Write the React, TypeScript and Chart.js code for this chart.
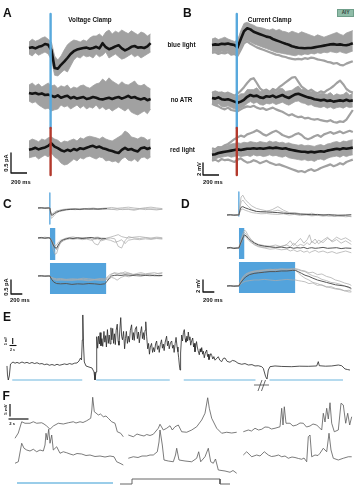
import React, { useEffect, useRef } from "react";
import { Chart, registerables } from "chart.js";

Chart.register(...registerables);

// ================= A: voltage clamp, current (pA) vs time (ms) =================
const A_TIME = [0, 40, 80, 120, 160, 200, 240, 280, 320, 360, 400, 440, 480, 520, 560, 600, 640, 680, 720, 760, 800, 840, 880, 920, 960, 1000, 1040, 1080, 1120, 1160, 1200, 1240, 1280, 1320, 1360, 1400, 1440, 1480, 1520];
const A_LIGHT_ONSET_MS = 270;

const A_BLUE_MEAN = [0, 0.02, -0.01, 0.03, 0.05, 0.1, 0.08, -0.05, -0.5, -0.52, -0.42, -0.34, -0.25, -0.15, -0.08, -0.04, -0.02, 0.0, 0.01, -0.02, 0.0, 0.03, -0.01, 0.12, 0.02, -0.03, 0.0, 0.04, 0.07, -0.01, -0.06, -0.02, 0.03, 0.05, 0.01, 0.02, 0.0, 0.04, 0.12];
const A_BLUE_HI = [0.15, 0.22, 0.17, 0.2, 0.25, 0.28, 0.22, 0.15, -0.2, -0.3, -0.2, -0.05, 0.08, 0.15, 0.2, 0.18, 0.15, 0.2, 0.17, 0.25, 0.3, 0.3, 0.35, 0.28, 0.4, 0.45, 0.35, 0.42, 0.38, 0.45, 0.4, 0.36, 0.43, 0.38, 0.33, 0.4, 0.37, 0.3, 0.35];
const A_BLUE_LO = [-0.15, -0.2, -0.12, -0.18, -0.14, -0.1, -0.15, -0.3, -0.68, -0.7, -0.62, -0.55, -0.6, -0.45, -0.3, -0.22, -0.25, -0.18, -0.22, -0.2, -0.25, -0.15, -0.22, -0.18, -0.1, -0.25, -0.2, -0.15, -0.22, -0.28, -0.25, -0.2, -0.15, -0.22, -0.18, -0.25, -0.2, -0.15, -0.1];

const A_NOATR_MEAN = [0.1, 0.08, 0.1, 0.07, 0.09, 0.05, 0.06, 0.03, 0.0, 0.04, -0.02, 0.01, 0.03, -0.03, 0.0, -0.04, -0.02, 0.0, -0.05, -0.03, 0.0, -0.02, -0.05, -0.06, -0.04, -0.02, -0.05, -0.02, 0.0, -0.04, -0.01, 0.03, -0.02, 0.0, -0.04, -0.06, -0.03, -0.08, -0.05];
const A_NOATR_HI = [0.3, 0.35, 0.28, 0.33, 0.25, 0.3, 0.35, 0.28, 0.3, 0.22, 0.28, 0.25, 0.3, 0.2, 0.25, 0.22, 0.28, 0.3, 0.25, 0.22, 0.28, 0.33, 0.35, 0.45, 0.38, 0.48, 0.4, 0.35, 0.3, 0.38, 0.32, 0.3, 0.35, 0.4, 0.3, 0.28, 0.32, 0.25, 0.2];
const A_NOATR_LO = [-0.1, -0.15, -0.12, -0.2, -0.25, -0.3, -0.28, -0.35, -0.32, -0.3, -0.2, -0.25, -0.22, -0.3, -0.25, -0.2, -0.28, -0.22, -0.3, -0.25, -0.28, -0.2, -0.3, -0.25, -0.32, -0.28, -0.35, -0.3, -0.25, -0.3, -0.35, -0.28, -0.38, -0.42, -0.45, -0.4, -0.35, -0.42, -0.3];

const A_RED_MEAN = [-0.02, 0.0, 0.03, -0.01, 0.02, 0.04, 0.08, 0.14, 0.06, 0.02, -0.03, -0.06, -0.02, -0.05, 0.0, -0.03, 0.02, 0.0, 0.03, 0.06, 0.08, 0.04, 0.06, 0.02, 0.0, -0.03, -0.05, -0.08, -0.1, -0.02, 0.03, -0.02, 0.0, -0.04, -0.06, 0.02, 0.04, 0.0, 0.03];
const A_RED_HI = [0.2, 0.25, 0.22, 0.18, 0.25, 0.22, 0.28, 0.3, 0.25, 0.22, 0.15, 0.2, 0.18, 0.22, 0.25, 0.2, 0.28, 0.25, 0.3, 0.32, 0.3, 0.28, 0.25, 0.3, 0.25, 0.22, 0.2, 0.25, 0.3, 0.35, 0.45, 0.4, 0.3, 0.28, 0.25, 0.3, 0.28, 0.22, 0.25];
const A_RED_LO = [-0.22, -0.2, -0.18, -0.25, -0.2, -0.15, -0.2, -0.1, -0.2, -0.25, -0.35, -0.4, -0.38, -0.32, -0.25, -0.3, -0.22, -0.25, -0.2, -0.18, -0.22, -0.25, -0.2, -0.22, -0.3, -0.28, -0.32, -0.3, -0.35, -0.25, -0.2, -0.28, -0.3, -0.25, -0.32, -0.22, -0.2, -0.25, -0.2];

// ================= B: current clamp, voltage (mV) vs time (ms) =================
const B_TIME = [0, 40, 80, 120, 160, 200, 240, 280, 320, 360, 400, 440, 480, 520, 560, 600, 640, 680, 720, 760, 800, 840, 880, 920, 960, 1000, 1040, 1080, 1120, 1160, 1200, 1240, 1280, 1320, 1360, 1400, 1440, 1480, 1520, 1560, 1600, 1640, 1680, 1720, 1760];
const B_LIGHT_ONSET_MS = 310;

const B_BLUE_MEAN = [0.0, 0.1, 0.05, 0.2, 0.15, 0.25, 0.1, 0.0, -0.4, 1.0, 2.3, 2.8, 2.6, 2.2, 2.0, 1.8, 1.6, 1.4, 1.3, 1.0, 0.8, 0.6, 0.4, 0.2, 0.05, -0.2, -0.35, -0.45, -0.5, -0.55, -0.5, -0.5, -0.4, -0.3, -0.2, -0.1, 0.0, 0.1, 0.15, 0.05, 0.1, 0.0, -0.05, 0.1, 0.3];
const B_BLUE_HI = [1.0, 1.2, 0.9, 1.1, 1.3, 1.0, 0.8, 0.6, 0.8, 2.4, 3.6, 3.8, 3.5, 3.3, 3.0, 2.9, 2.8, 2.6, 2.5, 2.7, 2.4, 2.6, 2.3, 2.2, 2.0, 2.3, 2.1, 1.9, 2.2, 2.0, 1.8, 1.6, 1.4, 1.7, 1.5, 1.3, 1.5, 1.7, 1.9, 2.1, 1.8, 1.6, 2.0, 2.2, 2.4];
const B_BLUE_LO = [-1.2, -1.0, -1.4, -1.1, -1.3, -1.0, -1.5, -1.4, -1.6, -0.5, 0.5, 0.8, 0.5, 0.2, 0.0, -0.2, -0.4, -0.6, -0.8, -1.0, -1.2, -1.3, -1.4, -1.5, -1.6, -1.7, -1.8, -1.6, -1.7, -1.5, -1.6, -1.4, -1.5, -1.3, -1.4, -1.2, -1.3, -1.1, -1.2, -1.3, -1.1, -1.3, -1.4, -1.2, -1.0];
const B_BLUE_SWEEP_LOW = [-1.3, -1.2, -1.5, -1.3, -1.4, -1.2, -1.6, -1.5, -1.8, -0.8, 0.3, 0.6, 0.2, -0.1, -0.4, -0.6, -0.8, -1.0, -1.2, -1.4, -1.6, -1.7, -1.9, -2.0, -2.2, -2.3, -2.4, -2.3, -2.4, -2.2, -2.3, -2.1, -2.2, -2.4, -2.5, -2.6, -2.8, -2.9, -3.1, -3.0, -3.3, -3.4, -3.1, -2.9, -2.7];

const B_NOATR_MEAN = [0.0, -0.1, 0.1, -0.2, -0.3, -0.2, -0.4, -0.6, -0.8, -0.6, -0.3, 0.2, 0.5, 0.3, 0.4, 0.1, 0.0, 0.3, 0.2, 0.4, 0.1, 0.3, 0.5, 0.2, 0.0, 0.3, 0.6, 0.7, 0.5, 0.3, 0.1, 0.0, -0.2, -0.3, -0.4, -0.3, -0.5, -0.4, -0.6, -0.5, -0.4, -0.5, -0.3, -0.5, -0.4];
const B_NOATR_HI = [1.0, 1.2, 1.0, 1.0, 0.8, 0.8, 0.8, 0.3, 0.3, 0.7, 0.7, 1.4, 1.4, 1.4, 1.7, 1.1, 1.2, 1.4, 1.1, 1.6, 1.1, 1.6, 1.6, 1.1, 1.2, 1.3, 1.7, 2.0, 1.4, 1.5, 1.1, 1.1, 1.1, 0.6, 0.8, 0.7, 0.6, 0.9, 0.4, 0.7, 0.5, 0.6, 1.0, 0.5, 0.8];
const B_NOATR_LO = [-1.1, -1.3, -1.0, -1.4, -1.5, -1.3, -1.6, -1.8, -2.0, -1.7, -1.4, -0.9, -0.6, -0.9, -0.7, -1.1, -1.2, -0.9, -1.0, -0.8, -1.1, -0.9, -0.7, -1.0, -1.2, -0.9, -0.6, -0.5, -0.8, -0.9, -1.2, -1.1, -1.4, -1.5, -1.6, -1.4, -1.7, -1.5, -1.8, -1.6, -1.5, -1.7, -1.4, -1.6, -1.5];
const B_NOATR_SWEEP_PEAKS = [0.8, 1.0, 0.6, 0.9, 0.7, 0.9, 0.6, 0.4, 0.7, 1.2, 1.8, 2.5, 3.1, 3.3, 2.5, 1.6, 1.2, 1.4, 1.0, 1.5, 1.3, 1.8, 2.2, 2.6, 3.0, 3.4, 3.5, 2.7, 1.9, 1.5, 1.1, 1.4, 1.0, 0.8, 1.1, 0.9, 1.3, 1.6, 2.0, 2.5, 2.9, 2.3, 1.5, 1.1, 0.9];
const B_NOATR_SWEEP_DRIFT = [-0.9, -1.2, -1.4, -1.7, -1.9, -1.6, -2.0, -2.1, -2.2, -1.9, -1.6, -1.4, -1.5, -1.3, -1.6, -1.8, -1.7, -2.0, -1.8, -1.6, -1.9, -2.1, -2.3, -2.6, -2.9, -2.7, -3.0, -3.2, -3.1, -3.4, -3.3, -3.5, -3.6, -3.5, -3.7, -3.8, -3.9, -3.7, -4.0, -4.1, -3.9, -4.0, -3.6, -2.8, -2.0];

const B_RED_MEAN = [-0.8, -0.7, -0.5, -0.4, -0.3, -0.2, -0.1, 0.0, 0.1, 0.0, 0.1, 0.2, 0.2, 0.3, 0.2, 0.3, 0.2, 0.3, 0.4, 0.3, 0.4, 0.3, 0.2, 0.3, 0.1, 0.0, -0.1, -0.2, -0.3, -0.3, -0.4, -0.3, -0.4, -0.3, -0.2, -0.3, -0.1, 0.0, 0.1, 0.2, 0.1, 0.3, 0.2, 0.3, 0.4];
const B_RED_HI = [0.0, 0.2, 0.4, 0.6, 0.7, 0.8, 1.0, 1.1, 1.2, 1.1, 1.3, 1.2, 1.4, 1.3, 1.2, 1.4, 1.3, 1.2, 1.5, 1.3, 1.4, 1.2, 1.3, 1.1, 1.2, 1.0, 0.9, 0.8, 0.9, 0.7, 0.8, 0.7, 0.6, 0.8, 0.9, 0.7, 1.0, 1.1, 1.3, 1.4, 1.2, 1.5, 1.4, 1.6, 1.7];
const B_RED_LO = [-1.6, -1.5, -1.3, -1.2, -1.1, -1.0, -1.2, -1.1, -0.9, -1.1, -1.0, -0.9, -1.1, -0.8, -1.0, -0.9, -1.1, -1.0, -0.8, -1.0, -0.9, -1.1, -1.2, -1.0, -1.3, -1.4, -1.5, -1.6, -1.7, -1.6, -1.8, -1.7, -1.9, -1.6, -1.5, -1.7, -1.4, -1.2, -1.1, -1.0, -1.2, -0.9, -1.1, -0.9, -0.8];
const B_RED_SWEEP_UP = [0.3, 0.1, 0.5, 0.4, 0.8, 1.0, 1.4, 1.8, 2.1, 2.4, 2.2, 2.6, 2.8, 3.0, 3.3, 3.0, 2.6, 2.4, 2.7, 3.0, 3.2, 2.9, 2.5, 2.3, 2.1, 2.3, 2.6, 2.8, 2.5, 2.0, 1.8, 2.0, 2.3, 2.5, 2.2, 2.6, 2.8, 3.0, 2.7, 2.9, 3.1, 2.8, 3.0, 3.2, 3.0];
const B_RED_SWEEP_DOWN = [-1.8, -1.6, -1.9, -1.5, -1.7, -1.6, -1.8, -2.0, -1.6, -1.4, -1.8, -2.1, -2.0, -1.7, -1.9, -2.2, -2.0, -1.8, -2.1, -2.3, -2.5, -2.4, -2.6, -2.8, -3.0, -3.2, -3.4, -3.6, -3.5, -3.7, -3.4, -3.2, -3.5, -3.3, -3.0, -2.8, -2.6, -2.4, -2.7, -2.5, -2.2, -2.4, -2.0, -1.8, -1.6];

// ================= C: voltage clamp, pulse length series (pA, ms) =================
const CD_LIGHT_ONSET_MS = 210;
const CD_PULSES_MS = [10, 100, 1000];

const C1_TIME = [0, 60, 120, 180, 210, 225, 240, 260, 290, 330, 380, 440, 500, 580, 660, 740, 820, 900, 980, 1060, 1140, 1220, 1300, 1400, 1500, 1600, 1700, 1800, 1900, 2000, 2100, 2200];
const C1_MEAN = [0, 0.01, -0.01, 0.0, 0.0, -0.18, -0.26, -0.25, -0.2, -0.15, -0.11, -0.08, -0.06, -0.05, -0.04, -0.05, -0.03, -0.04, -0.03, -0.04, -0.03, -0.02];
const C1_SWEEPS = [
  [0.02, 0.0, 0.01, -0.01, 0.0, -0.25, -0.37, -0.33, -0.25, -0.18, -0.12, -0.1, -0.07, -0.05, -0.06, -0.04, -0.02, -0.04, -0.05, -0.03, -0.02, -0.04, -0.05, -0.02, -0.06, -0.03, -0.05, -0.02, -0.06, -0.03, -0.04, -0.05],
  [-0.01, 0.01, 0.0, 0.02, 0.01, -0.15, -0.22, -0.2, -0.15, -0.1, -0.08, -0.05, -0.04, -0.02, -0.04, -0.03, -0.05, -0.02, 0.0, -0.03, -0.01, 0.0, 0.02, -0.01, 0.01, 0.03, 0.0, -0.02, 0.01, 0.03, 0.0, -0.02],
  [0.0, -0.01, 0.01, 0.0, -0.01, -0.12, -0.2, -0.22, -0.18, -0.12, -0.09, -0.06, -0.05, -0.03, -0.02, -0.06, -0.04, -0.01, -0.03, -0.05, -0.04, -0.02, -0.04, -0.07, -0.03, -0.05, -0.08, -0.04, -0.02, -0.05, -0.07, -0.04],
];

const C2_TIME = [0, 60, 120, 180, 210, 240, 270, 300, 330, 360, 400, 450, 500, 560, 620, 700, 780, 860, 940, 1000, 1060, 1120, 1200, 1280, 1360, 1420, 1480, 1540, 1600, 1700, 1800, 1900, 2000, 2100, 2200];
const C2_MEAN = [0, 0.02, -0.01, 0.01, 0.0, -0.1, -0.25, -0.35, -0.36, -0.25, -0.12, -0.06, -0.03, 0.0, -0.02, 0.01, -0.02, 0.0, 0.02, -0.01, 0.0, -0.03, -0.02];
const C2_SWEEPS = [
  [0.0, -0.02, 0.01, 0.0, 0.02, -0.15, -0.4, -0.58, -0.55, -0.35, -0.15, -0.08, -0.04, -0.02, 0.0, -0.03, -0.01, 0.02, -0.02, -0.2, -0.25, -0.05, -0.02, 0.0, -0.03, -0.3, -0.36, -0.1, 0.05, 0.0, -0.02, 0.01, -0.03, 0.0, -0.02],
  [0.02, 0.0, 0.03, 0.01, 0.0, -0.1, -0.2, -0.28, -0.25, -0.15, -0.08, -0.04, 0.0, 0.02, 0.04, 0.0, 0.02, -0.02, 0.0, 0.02, 0.03, 0.0, -0.01, 0.03, 0.08, 0.12, 0.05, 0.02, 0.0, 0.03, 0.05, 0.02, 0.0, 0.03, 0.01],
  [-0.01, 0.0, -0.02, 0.0, -0.01, -0.08, -0.18, -0.3, -0.42, -0.3, -0.18, -0.1, -0.05, -0.03, -0.05, -0.02, -0.06, -0.04, -0.08, -0.05, -0.03, -0.1, -0.05, -0.08, -0.15, -0.12, -0.06, -0.2, -0.08, -0.04, -0.06, -0.03, -0.05, -0.02, -0.04],
];

const C3_TIME = [0, 60, 120, 180, 210, 240, 280, 330, 400, 500, 600, 700, 800, 900, 1000, 1100, 1180, 1220, 1260, 1300, 1350, 1400, 1470, 1540, 1610, 1680, 1750, 1820, 1900, 1980, 2060, 2140, 2200];
const C3_MEAN = [0, 0.01, -0.01, 0.0, 0.0, -0.12, -0.22, -0.27, -0.28, -0.27, -0.3, -0.28, -0.29, -0.27, -0.28, -0.3, -0.28, -0.2, -0.08, 0.0, 0.02, 0.03, 0.02, 0.04, 0.03, 0.02, 0.04, 0.03, 0.02, 0.03, 0.01, 0.02, 0.02];
const C3_SWEEPS = [
  [0.02, 0.0, 0.01, -0.01, 0.0, -0.05, -0.08, -0.1, -0.09, -0.12, -0.1, -0.11, -0.08, -0.1, -0.12, -0.09, -0.1, -0.05, 0.03, 0.08, 0.1, 0.06, 0.12, 0.08, 0.1, 0.05, 0.09, 0.12, 0.08, 0.1, 0.12, 0.08, 0.1],
  [-0.01, 0.01, 0.0, 0.02, 0.0, -0.08, -0.13, -0.16, -0.15, -0.14, -0.16, -0.13, -0.15, -0.17, -0.14, -0.16, -0.15, -0.12, -0.1, -0.05, -0.08, -0.15, -0.05, 0.0, -0.03, 0.02, 0.0, -0.02, 0.03, 0.0, 0.02, -0.01, 0.01],
  [0.0, -0.02, 0.01, 0.0, 0.01, -0.06, -0.1, -0.13, -0.12, -0.15, -0.13, -0.14, -0.12, -0.14, -0.13, -0.12, -0.14, -0.08, -0.02, 0.05, 0.12, 0.1, 0.08, 0.15, 0.1, 0.06, 0.04, 0.07, 0.05, 0.08, 0.06, 0.1, 0.12],
];

// ================= D: current clamp, pulse length series (mV, ms) =================
const D1_TIME = [0, 60, 120, 180, 210, 230, 250, 280, 320, 380, 440, 520, 600, 700, 800, 900, 1000, 1100, 1200, 1300, 1400, 1500, 1600, 1700, 1800, 1900, 2000, 2100, 2200];
const D1_MEAN = [0, 0.05, -0.05, 0.0, 0.0, 0.8, 1.3, 1.4, 1.2, 1.0, 0.8, 0.6, 0.55, 0.5, 0.45, 0.4, 0.3, 0.25, 0.2, 0.15, 0.1, 0.05, 0.1, 0.0, 0.05, 0.0, -0.05, 0.0, 0.05];
const D1_SWEEPS = [
  [0.1, 0.0, 0.05, -0.05, 0.0, 1.8, 3.0, 3.3, 2.6, 2.0, 1.5, 1.1, 0.9, 0.7, 0.6, 0.8, 0.5, 0.3, 0.4, 0.2, 0.1, 0.3, 0.0, -0.1, 0.1, -0.2, 0.0, -0.1, -0.3],
  [-0.1, 0.05, 0.0, 0.1, 0.0, 1.2, 2.2, 2.5, 2.0, 1.4, 0.9, 0.6, 0.5, 0.6, 0.9, 1.4, 0.8, 0.4, 0.3, 0.1, 0.2, 0.0, -0.1, 0.1, -0.2, 0.0, -0.2, -0.1, -0.2],
  [0.05, -0.05, 0.1, 0.0, 0.05, 0.5, 0.9, 1.0, 0.8, 0.6, 0.4, 0.3, 0.2, 0.25, 0.15, 0.1, 0.2, 0.0, 0.1, -0.1, 0.0, -0.15, -0.05, -0.2, -0.1, -0.25, -0.15, -0.3, -0.2],
];

const D2_TIME = [0, 60, 120, 180, 210, 250, 290, 310, 340, 380, 430, 490, 560, 660, 760, 860, 960, 1060, 1120, 1180, 1240, 1300, 1360, 1420, 1460, 1500, 1560, 1620, 1700, 1780, 1860, 1940, 2020, 2100, 2200];
const D2_MEAN = [0, 0.1, -0.1, 0.0, 0.0, 1.0, 1.9, 2.2, 2.0, 1.6, 1.2, 0.8, 0.5, 0.3, 0.2, 0.1, 0.15, 0.0, 0.1, -0.05, 0.05, 0.0, 0.1, -0.1, 0.0, 0.05, -0.05, 0.0, 0.1, -0.05, 0.0, 0.05, -0.1, 0.0, -0.05];
const D2_SWEEPS = [
  [0.1, 0.0, 0.05, -0.1, 0.0, 1.5, 2.6, 3.0, 2.7, 2.0, 1.4, 0.9, 0.6, 0.4, 0.3, 0.5, 0.2, 0.6, 1.2, 0.4, 1.0, 1.6, 0.8, 1.4, 2.2, 0.9, 1.5, 0.7, 1.3, 1.8, 1.0, 1.4, 0.8, 1.2, 0.6],
  [-0.1, 0.05, 0.0, 0.1, 0.0, 0.8, 1.6, 2.0, 1.8, 1.3, 0.9, 0.5, 0.2, 0.0, -0.2, -0.1, -0.3, -0.2, -0.5, -0.3, -0.6, -0.4, -0.7, -0.5, -0.8, -0.6, -0.4, -0.7, -0.5, -0.8, -0.6, -0.9, -0.7, -0.5, -0.8],
  [0.0, -0.05, 0.1, 0.0, 0.05, 1.2, 2.3, 2.6, 2.3, 1.5, 1.0, 0.6, 0.3, 0.1, 0.2, 0.0, 0.3, 0.5, 0.2, 0.8, 0.3, 0.6, 0.4, 0.9, 0.5, 1.1, 0.7, 1.3, 0.9, 1.6, 1.2, 1.8, 1.4, 1.7, 1.1],
];

const D3_TIME = [0, 60, 120, 180, 210, 240, 280, 330, 400, 480, 560, 660, 760, 860, 960, 1060, 1160, 1210, 1260, 1320, 1380, 1450, 1520, 1600, 1680, 1760, 1840, 1920, 2000, 2080, 2160, 2200];
const D3_MEAN = [0, 0.05, -0.05, 0.0, 0.0, 0.5, 1.0, 1.5, 1.9, 2.1, 2.2, 2.3, 2.4, 2.4, 2.5, 2.5, 2.6, 2.6, 2.4, 2.1, 1.8, 1.6, 1.3, 1.0, 0.8, 0.6, 0.4, 0.2, 0.1, 0.0, -0.2, -0.4];
const D3_SWEEPS = [
  [0.05, 0.0, 0.1, -0.05, 0.0, 0.8, 1.5, 2.0, 2.3, 2.5, 2.6, 2.7, 2.8, 2.7, 2.9, 2.8, 2.9, 2.9, 2.8, 2.6, 2.5, 2.2, 2.3, 1.9, 2.0, 1.6, 1.4, 1.0, 0.8, 0.5, 0.3, 0.1],
  [-0.05, 0.05, 0.0, 0.05, 0.0, 0.3, 0.6, 0.8, 0.9, 1.0, 1.0, 1.1, 1.0, 0.9, 1.0, 1.1, 1.0, 1.0, 0.9, 0.8, 0.7, 0.4, 0.5, 0.1, 0.2, -0.2, -0.1, -0.4, -0.5, -0.8, -1.0, -1.0],
  [0.0, -0.05, 0.05, 0.0, 0.05, 0.6, 1.2, 1.7, 2.1, 2.3, 2.4, 2.5, 2.6, 2.6, 2.7, 2.7, 2.8, 2.8, 2.7, 2.5, 2.4, 2.0, 1.7, 1.5, 1.1, 0.9, 0.6, 0.5, 0.3, 0.0, -0.3, -0.6],
  [0.02, 0.0, -0.03, 0.03, 0.0, 0.7, 1.4, 1.9, 2.2, 2.4, 2.5, 2.6, 2.7, 2.8, 2.7, 2.8, 2.7, 2.7, 2.2, 1.7, 1.3, 1.0, 0.6, 0.4, 0.1, -0.1, -0.3, -0.5, -0.6, -0.8, -0.7, -0.9],
];

// ================= E: long recording, mV vs s =================
const E_TIME = [
  0, 0.14, 0.37, 0.66, 1.0, 1.71, 2.3, 2.86, 3.5, 4.29, 5.0, 5.71, 6.4, 7.14, 7.9, 8.57, 9.3, 10.0, 10.7, 11.43, 12.1, 12.86, 13.6, 14.29, 15.0, 15.71, 16.4, 17.14, 17.9, 18.57, 19.3, 20.0, 20.57, 21.0, 21.29, 21.51, 21.66, 21.86, 22.09, 22.57, 23.43, 24.29, 24.86, 25.14, 25.43,
  25.63, 25.9, 26.15, 26.4, 26.6, 26.85, 27.1, 27.35, 27.7, 27.95, 28.2, 28.4, 28.7, 28.95, 29.2, 29.45, 29.7, 29.95, 30.2, 30.45, 30.7, 30.95, 31.2, 31.5, 31.75, 32.0, 32.25, 32.5, 32.75, 33.0, 33.3, 33.6, 33.85, 34.1, 34.4, 34.65, 34.95, 35.25, 35.6, 35.85, 36.1, 36.35, 36.65, 37.0, 37.25, 37.55, 37.8, 38.1, 38.45, 38.7, 38.95, 39.2, 39.45, 39.65, 39.9, 40.2, 40.45, 40.7, 40.95, 41.3, 41.6, 41.9, 42.15, 42.45, 42.75, 43.0, 43.3, 43.5, 43.8, 44.15, 44.4, 44.65, 44.9, 45.2, 45.6, 45.85, 46.1, 46.35, 46.7, 47.05, 47.3, 47.55, 47.75, 48.05, 48.3, 48.6, 48.85, 49.05, 49.25, 49.43, 49.6, 49.91, 50.15, 50.4, 50.66, 50.9, 51.14, 51.4, 51.6, 51.8, 52.05, 52.25, 52.49, 52.75, 53.06, 53.3, 53.5, 53.71, 53.95, 54.15, 54.37, 54.6, 54.94, 55.2, 55.4, 55.63, 55.9, 56.1, 56.37, 56.65, 57.06, 57.3, 57.5, 57.71, 58.0, 58.25, 58.49, 58.8, 59.1, 59.43,
  60.37, 60.8, 61.34, 61.8, 62.29, 62.9, 63.71, 64.4, 65.14, 66.0, 67.06, 68.0, 68.94, 70.0, 70.86, 71.8, 72.77, 73.23, 73.91, 74.29, 74.66, 75.14, 76.57, 78.5, 81.34, 83.5, 86.09, 88.49, 88.94, 89.23, 91.0, 92.77, 94.66, 95.63, 96.57, 97.3, 98.0,
];
const E_MV = [
  -0.8, -8.3, -12.5, -9.2, 0.8, 2.5, 1.5, 2.2, 1.4, 2.5, 1.6, 2.2, 1.3, 2.1, 1.2, 1.9, 0.9, 1.2, 0.3, 0.8, -0.2, 0.4, -0.3, 0.6, -0.2, 0.3, 0.9, 0.4, 1.2, 0.6, 1.5, 1.7, 3.3, 5.8, 4.2, 20.8, 41.7, 16.7, 2.5, -0.8, -1.7, -2.5, -5.8, -12.5, -5.8,
  23.6, 14.0, 24.0, 17.5, 27.0, 16.0, 22.0, 15.5, 28.0, 19.0, 24.5, 15.0, 29.5, 18.0, 25.0, 17.5, 31.0, 21.0, 30.5, 18.0, 26.0, 17.0, 29.0, 34.0, 20.0, 16.5, 30.0, 39.5, 24.0, 21.0, 28.0, 13.5, 22.0, 28.0, 18.0, 24.0, 19.0, 29.0, 33.5, 21.0, 27.0, 20.5, 30.0, 32.0, 22.0, 27.5, 18.5, 26.0, 32.0, 22.0, 27.0, 21.0, 29.0, 36.0, 24.0, 13.5, 18.0, 9.0, 15.0, 18.0, 10.5, 14.5, 11.0, 17.5, 20.0, 13.0, 16.0, 10.5, 17.0, 21.0, 14.0, 17.5, 12.0, 19.0, 24.0, 16.0, 20.0, 13.5, 18.5, 20.0, 14.0, 16.5, 10.5, 18.0, 23.0, 15.0, 11.0, 6.0, 0.0, -4.2, 10.0, 25.0, 20.0, 27.0, 29.5, 22.0, 19.0, 24.0, 20.0, 27.5, 21.0, 23.5, 16.5, 20.0, 22.5, 15.0, 18.0, 11.0, 16.0, 19.5, 15.0, 12.0, 8.5, 13.5, 11.0, 14.5, 9.0, 11.5, 6.0, 10.0, 12.5, 7.0, 9.0, 4.5, 7.5, 9.5, 8.0, 5.0, 7.0, 4.0,
  6.9, 4.0, 2.8, 5.5, 5.8, 3.0, 2.3, 3.8, 3.3, 1.5, 0.6, 1.2, 0, 0.3, -0.8, -0.6, -1.4, -2.8, -9.8, -11.7, -4.2, -1.4, -0.8, -1.2, -1.4, -1.0, -1.1, -0.8, 2.8, -0.6, -1.0, -0.8, 0, -0.6, -3.3, -3.8, -4.2,
];
const E_LIGHT_S = [[1.5, 21.5], [25.5, 46.5], [50.5, 71.0], [75.0, 96.0]];

// ================= F: six sweeps, mV vs s =================
const F_R1C1_T = [0, 0.33, 0.67, 1.0, 1.5, 1.83, 2.17, 2.67, 2.9, 3.17, 3.5, 3.83, 4.33, 4.83, 5.33, 5.83, 6.1, 6.5, 6.8, 7.17, 7.57, 7.68, 7.77, 7.93, 8.1, 8.33, 8.55, 8.83, 9.1, 9.33, 9.67, 10.0, 10.23, 10.57, 10.83];
const F_R1C1_V = [-3.3, -1.2, 3.3, 2.7, 2.7, 3.3, 2.7, 2.9, 2.4, 1.6, 0.3, 1.6, 2.7, 2.4, 2.9, 3.3, 2.8, 3.3, 3.0, 3.7, 4.7, 8.0, 13.1, 7.3, 6.8, 6.0, 6.4, 5.3, 5.6, 4.7, 3.3, 2.7, -0.7, -1.3, -2.7];
const F_R2C1_T = [0, 0.33, 0.67, 0.9, 1.17, 1.5, 1.83, 2.17, 2.5, 2.83, 3.0, 3.1, 3.23, 3.37, 3.5, 3.67, 3.83, 4.17, 4.5, 4.83, 5.17, 5.5, 5.83, 6.2, 6.67, 7.1, 7.5, 8.0, 8.5, 9.0, 9.5, 9.9, 10.17, 10.5, 10.83];
const F_R2C1_V = [-2.1, -1.5, 5.9, 3.9, 3.2, 2.8, 3.5, 2.5, 3.2, 2.8, 5.2, 9.9, 7.2, 11.5, 5.9, 9.2, 3.2, 4.5, 1.9, 2.5, 2.1, 1.6, 1.2, 1.8, 1.6, 1.0, 1.2, 0.6, 0.8, 0.4, 0.8, 0.5, -1.5, -2.1, -2.8];
const F_R1C2_T = [0.03, 0.53, 0.9, 1.2, 1.6, 1.87, 2.2, 2.53, 2.8, 3.03, 3.2, 3.53, 3.87, 4.2, 4.43, 4.7, 5.03, 5.37, 5.87, 6.37, 6.87, 7.37, 7.7, 7.97, 8.13, 8.37, 8.87, 9.37, 9.87, 10.37, 10.87];
const F_R1C2_V = [-2.0, -2.7, -1.6, -2.0, -2.4, -1.8, -2.2, -1.7, -0.4, 0.7, 2.3, 0.0, 0.7, 1.7, 0.0, 1.3, 2.0, -0.7, -0.9, 0.0, 1.3, 4.0, 6.7, 12.9, 8.7, 4.7, 0.7, -1.3, -0.9, -1.2, -0.9];
const F_R2C2_T = [0.03, 0.53, 1.0, 1.4, 1.87, 2.2, 2.53, 2.93, 3.1, 3.2, 3.43, 3.6, 4.03, 4.53, 4.75, 4.87, 5.1, 5.7, 6.37, 6.87, 7.07, 7.27, 7.7, 8.03, 8.27, 8.53, 8.75, 9.03, 9.7, 10.2, 10.5, 10.87];
const F_R2C2_V = [-0.1, 0.5, 0.2, 0.8, 0.8, 1.2, 1.2, 2.5, 6.4, 11.2, 5.2, -0.8, -1.2, -1.5, 1.2, 3.9, -0.8, -1.2, -1.5, -0.1, 2.5, -1.5, 0.5, 3.9, -1.5, -2.1, -0.4, -4.8, -5.2, -5.7, -5.0, -6.1];
const F_R1C3_T = [0.03, 0.53, 0.85, 1.2, 1.55, 1.87, 2.2, 2.53, 2.85, 3.2, 3.7, 3.87, 4.0, 4.13, 4.3, 4.7, 5.0, 5.37, 5.7, 6.03, 6.35, 6.7, 7.0, 7.37, 7.87, 8.03, 8.2, 8.37, 8.53, 8.7, 8.87, 9.13, 9.53, 9.8, 10.03, 10.27, 10.47, 10.67, 10.87];
const F_R1C3_V = [-0.7, 0.0, -0.4, 0.7, 0.0, 0.3, 1.2, 1.1, 0.4, 0.7, 1.3, 8.7, 2.0, 9.3, 2.7, 2.7, 1.6, 2.0, 2.8, 2.7, 1.2, 1.6, 2.4, 2.0, 0.0, 6.7, 3.2, 8.7, 4.4, 10.9, 2.7, -0.7, 0.0, 10.7, 10.0, 2.7, 6.7, 2.0, 5.3];
const F_R2C3_T = [0.03, 0.37, 0.87, 1.37, 1.7, 2.13, 2.53, 2.85, 3.2, 3.55, 3.87, 4.2, 4.53, 4.9, 5.2, 5.55, 5.87, 6.1, 6.37, 6.53, 6.7, 6.87, 7.2, 7.5, 7.7, 8.03, 8.37, 8.6, 8.8, 9.03, 9.53, 10.03, 10.53, 10.87];
const F_R2C3_V = [1.2, 2.5, 0.5, 1.2, 0.8, 2.5, 1.2, 0.6, 0.8, 1.2, 0.5, 0.8, -0.1, 0.4, 0.2, -0.2, -0.5, 0.0, -1.5, 8.5, 9.2, 0.5, 1.2, 1.0, 1.9, 3.9, 2.5, 9.9, 3.2, -0.1, -0.8, -0.1, 0.5, 0.5];
const F_LIGHT_S = [0.2, 9.8];
const F_STEP_T = [10.5, 11.7, 11.7, 20.5, 20.5, 21.5];
const F_STEP_ON = [0, 0, 1, 1, 0, 0];

// Scale bar sizes
const BAR_MS = 200;
const BAR_PA = 0.5;
const BAR_MV_B = 2;
const BAR_S = 2;
const BAR_MV_EF = 5;

// ================= layout: canvas boxes and visible data windows =================
const LA = { box: { l: 0, t: 0, w: 178, h: 195 }, x: [-362.5, 1862.5], y: [-4.875, 0], rows: [-1.2, -2.425, -3.725], blue: [-0.35, -3.2], red: [-3.2, -4.375], bar: [-225, -4.325] };
const LB = { box: { l: 178, t: 0, w: 180, h: 195 }, x: [-425, 1825], y: [-32.5, 0], rows: [-7.5, -16.333, -25], blue: [-2.333, -21.333], red: [-21.333, -29.167], bar: [-112.5, -29.167] };
const LC = { box: { l: 0, t: 190, w: 178, h: 115 }, x: [-672.57, 2477.88], y: [-4.107, 0], rows: [-0.643, -1.714, -3.071], flash: [-0.107, -1.214], rects: [[-1.357, -2.5], [-2.607, -3.714]], bar: [-477.9, -3.714] };
const LD = { box: { l: 178, t: 190, w: 180, h: 115 }, x: [-867.26, 2318.58], y: [-19.167, 0], rows: [-4.167, -9.667, -16], flash: [-0.333, -4.333], rects: [[-6.333, -11.5], [-12, -17.167]], bar: [-424.8, -17] };
const LE = { box: { l: 0, t: 300, w: 358, h: 95 }, x: [-2, 100.286], y: [-25, 54.167], lightY: -12.5, barV: [1.63, 17.5], barH: [0.714, 16.25] };
const LF = { box: { l: 0, t: 385, w: 358, h: 105 }, x: [-1.5, 34.3], y: [-24, 18], rows: [0, -11.2], cols: [0, 11.3, 22.8], lightY: -21.2, stepBase: -21.6, stepHeight: 2, barV: [-0.5, 5.4], barH: [-0.65, 4.4] };

const COL = {
  band: "#a1a1a1",
  mean: "#141414",
  blue: "#58a9dd",
  red: "#b3392c",
  rect: "#53a3dc",
  sweep: "#acacac",
  sweepMean: "#555555",
  eTrace: "#262626",
  eBlue: "#6cb5de",
  fTrace: "#5a5a5a",
  fBlue: "#79bde2",
  step: "#555555",
  bar: "#111111",
  mark: "#444444",
};

type Pt = { x: number; y: number };
type DS = Record<string, unknown>;

const pts = (t: number[], v: number[], dy = 0, dx = 0): Pt[] => v.map((y, i) => ({ x: t[i] + dx, y: y + dy }));

const trace = (data: Pt[], color: string, width: number): DS => ({
  data,
  borderColor: color,
  borderWidth: width,
  pointRadius: 0,
  fill: false,
  tension: 0,
  borderJoinStyle: "round",
});

const seg = (x0: number, y0: number, x1: number, y1: number, color: string, width: number): DS =>
  trace([{ x: x0, y: y0 }, { x: x1, y: y1 }], color, width);

const band = (lo: Pt[], hi: Pt[], color: string): DS[] => [
  trace(lo, color, 0.8),
  { ...trace(hi, color, 0.8), fill: "-1", backgroundColor: color },
];

const rect = (x0: number, x1: number, yTop: number, yBot: number, color: string): DS => ({
  data: [{ x: x0, y: yTop }, { x: x1, y: yTop }],
  borderColor: "rgba(0,0,0,0)",
  borderWidth: 0,
  pointRadius: 0,
  tension: 0,
  fill: { value: yBot },
  backgroundColor: color,
});

const lBar = (x: number, y: number, dx: number, dy: number, color: string): DS =>
  trace([{ x, y: y + dy }, { x, y }, { x: x + dx, y }], color, 1.3);

// ---------- A ----------
const A_ROWS = [
  { mean: A_BLUE_MEAN, hi: A_BLUE_HI, lo: A_BLUE_LO },
  { mean: A_NOATR_MEAN, hi: A_NOATR_HI, lo: A_NOATR_LO },
  { mean: A_RED_MEAN, hi: A_RED_HI, lo: A_RED_LO },
];
const aSets: DS[] = [];
A_ROWS.forEach((r, i) => {
  const dy = LA.rows[i];
  aSets.push(...band(pts(A_TIME, r.lo, dy), pts(A_TIME, r.hi, dy), COL.band));
  aSets.push(trace(pts(A_TIME, r.mean, dy), COL.mean, 2.6));
});
aSets.push(seg(A_LIGHT_ONSET_MS, LA.blue[0], A_LIGHT_ONSET_MS, LA.blue[1], COL.blue, 2.4));
aSets.push(seg(A_LIGHT_ONSET_MS, LA.red[0], A_LIGHT_ONSET_MS, LA.red[1], COL.red, 2.4));
aSets.push(lBar(LA.bar[0], LA.bar[1], BAR_MS, BAR_PA, COL.bar));

// ---------- B ----------
const B_ROWS = [
  { mean: B_BLUE_MEAN, hi: B_BLUE_HI, lo: B_BLUE_LO, extra: [B_BLUE_SWEEP_LOW] },
  { mean: B_NOATR_MEAN, hi: B_NOATR_HI, lo: B_NOATR_LO, extra: [B_NOATR_SWEEP_PEAKS, B_NOATR_SWEEP_DRIFT] },
  { mean: B_RED_MEAN, hi: B_RED_HI, lo: B_RED_LO, extra: [B_RED_SWEEP_UP, B_RED_SWEEP_DOWN] },
];
const bSets: DS[] = [];
B_ROWS.forEach((r, i) => {
  const dy = LB.rows[i];
  r.extra.forEach((s) => bSets.push(trace(pts(B_TIME, s, dy), COL.band, 2.2)));
  bSets.push(...band(pts(B_TIME, r.lo, dy), pts(B_TIME, r.hi, dy), COL.band));
  bSets.push(trace(pts(B_TIME, r.mean, dy), COL.mean, 2.6));
});
bSets.push(seg(B_LIGHT_ONSET_MS, LB.blue[0], B_LIGHT_ONSET_MS, LB.blue[1], COL.blue, 2.4));
bSets.push(seg(B_LIGHT_ONSET_MS, LB.red[0], B_LIGHT_ONSET_MS, LB.red[1], COL.red, 2.4));
bSets.push(lBar(LB.bar[0], LB.bar[1], BAR_MS, BAR_MV_B, COL.bar));

// ---------- C & D ----------
type PulseRow = { t: number[]; mean: number[]; sweeps: number[][] };
function pulsePanel(rows: PulseRow[], L: typeof LC, barSize: number): DS[] {
  const sets: DS[] = [];
  sets.push(rect(CD_LIGHT_ONSET_MS, CD_LIGHT_ONSET_MS + CD_PULSES_MS[1], L.rects[0][0], L.rects[0][1], COL.rect));
  sets.push(rect(CD_LIGHT_ONSET_MS, CD_LIGHT_ONSET_MS + CD_PULSES_MS[2], L.rects[1][0], L.rects[1][1], COL.rect));
  sets.push(seg(CD_LIGHT_ONSET_MS, L.flash[0], CD_LIGHT_ONSET_MS, L.flash[1], COL.rect, 1.3));
  rows.forEach((r, i) => {
    const dy = L.rows[i];
    r.sweeps.forEach((s) => sets.push(trace(pts(r.t, s, dy), COL.sweep, 0.75)));
    sets.push(trace(pts(r.t, r.mean, dy), COL.sweepMean, 1.0));
  });
  sets.push(lBar(L.bar[0], L.bar[1], BAR_MS, barSize, COL.bar));
  return sets;
}
const cSets = pulsePanel(
  [
    { t: C1_TIME, mean: C1_MEAN, sweeps: C1_SWEEPS },
    { t: C2_TIME, mean: C2_MEAN, sweeps: C2_SWEEPS },
    { t: C3_TIME, mean: C3_MEAN, sweeps: C3_SWEEPS },
  ],
  LC,
  BAR_PA
);
const dSets = pulsePanel(
  [
    { t: D1_TIME, mean: D1_MEAN, sweeps: D1_SWEEPS },
    { t: D2_TIME, mean: D2_MEAN, sweeps: D2_SWEEPS },
    { t: D3_TIME, mean: D3_MEAN, sweeps: D3_SWEEPS },
  ],
  LD as typeof LC,
  BAR_MV_B
);

// ---------- E ----------
const eSets: DS[] = [];
E_LIGHT_S.forEach(([t0, t1]) => eSets.push(seg(t0, LE.lightY, t1, LE.lightY, COL.eBlue, 1.1)));
eSets.push(trace(pts(E_TIME, E_MV), COL.eTrace, 0.8));
// axis break between the third and fourth light periods
eSets.push(seg(70.57, -16.67, 74.86, -16.67, COL.mark, 0.8));
eSets.push(seg(71.71, -21.67, 72.86, -12.5, COL.mark, 0.8));
eSets.push(seg(72.71, -21.67, 73.86, -12.5, COL.mark, 0.8));
eSets.push(seg(LE.barV[0], LE.barV[1], LE.barV[0], LE.barV[1] + BAR_MV_EF, COL.bar, 1.1));
eSets.push(seg(LE.barH[0], LE.barH[1], LE.barH[0] + BAR_S, LE.barH[1], COL.bar, 1.1));

// ---------- F ----------
const F_SWEEPS = [
  { t: F_R1C1_T, v: F_R1C1_V, row: 0, col: 0 },
  { t: F_R2C1_T, v: F_R2C1_V, row: 1, col: 0 },
  { t: F_R1C2_T, v: F_R1C2_V, row: 0, col: 1 },
  { t: F_R2C2_T, v: F_R2C2_V, row: 1, col: 1 },
  { t: F_R1C3_T, v: F_R1C3_V, row: 0, col: 2 },
  { t: F_R2C3_T, v: F_R2C3_V, row: 1, col: 2 },
];
const fSets: DS[] = [];
F_SWEEPS.forEach((s) => fSets.push(trace(pts(s.t, s.v, LF.rows[s.row], LF.cols[s.col]), COL.fTrace, 0.8)));
fSets.push(seg(F_LIGHT_S[0], LF.lightY, F_LIGHT_S[1], LF.lightY, COL.fBlue, 1.6));
fSets.push(trace(F_STEP_T.map((t, i) => ({ x: t, y: LF.stepBase + F_STEP_ON[i] * LF.stepHeight })), COL.step, 0.9));
fSets.push(seg(LF.barV[0], LF.barV[1], LF.barV[0], LF.barV[1] + BAR_MV_EF, COL.bar, 1.2));
fSets.push(seg(LF.barH[0], LF.barH[1], LF.barH[0] + BAR_S, LF.barH[1], COL.bar, 1.2));

// ================= text =================
const FONT = "'Liberation Sans', Arial, Helvetica, sans-serif";
type Lbl = { text: string; x: number; y: number; size: number; anchor?: "start" | "middle" | "end"; rotate?: boolean };
const LABELS: Lbl[] = [
  { text: "A", x: 3, y: 16.8, size: 12 },
  { text: "B", x: 183, y: 17, size: 12 },
  { text: "C", x: 3, y: 207.8, size: 12 },
  { text: "D", x: 181, y: 208.3, size: 12 },
  { text: "E", x: 3, y: 321, size: 12 },
  { text: "F", x: 2.5, y: 399.5, size: 12 },
  { text: "Voltage Clamp", x: 90, y: 22, size: 6.3, anchor: "middle" },
  { text: "Current Clamp", x: 269.7, y: 22, size: 6.3, anchor: "middle" },
  { text: "blue light", x: 181.5, y: 47, size: 6.3, anchor: "middle" },
  { text: "no ATR", x: 181.5, y: 101.7, size: 6.3, anchor: "middle" },
  { text: "red light", x: 182.5, y: 151.5, size: 6.3, anchor: "middle" },
  { text: "0.5 pA", x: 8.3, y: 163, size: 5.8, anchor: "middle", rotate: true },
  { text: "200 ms", x: 11, y: 183.8, size: 5.8 },
  { text: "2 mV", x: 200.5, y: 169, size: 5.8, anchor: "middle", rotate: true },
  { text: "200 ms", x: 203, y: 184, size: 5.8 },
  { text: "0.5 pA", x: 8.3, y: 287, size: 5.8, anchor: "middle", rotate: true },
  { text: "200 ms", x: 10, y: 302, size: 5.8 },
  { text: "2 mV", x: 199.7, y: 286, size: 5.8, anchor: "middle", rotate: true },
  { text: "200 ms", x: 203, y: 302, size: 5.8 },
  { text: "5 mV", x: 7.3, y: 341, size: 3.4, anchor: "middle", rotate: true },
  { text: "2 s", x: 10, y: 351, size: 3.6 },
  { text: "5 mV", x: 6.7, y: 409.5, size: 4.3, anchor: "middle", rotate: true },
  { text: "2 s", x: 9.3, y: 425, size: 4.2 },
];

type Box = { l: number; t: number; w: number; h: number };

function TracePanel({ box, x, y, datasets }: { box: Box; x: number[]; y: number[]; datasets: DS[] }) {
  const ref = useRef<HTMLCanvasElement | null>(null);
  useEffect(() => {
    const canvas = ref.current;
    if (!canvas) return;
    // earlier entries sit underneath later ones
    const ordered = datasets.map((d, i) => ({ ...d, order: datasets.length - i }));
    const chart = new Chart(canvas, {
      type: "line",
      data: { datasets: ordered as any },
      options: {
        animation: false,
        responsive: false,
        maintainAspectRatio: false,
        devicePixelRatio: 1,
        events: [],
        layout: { padding: 0 },
        plugins: { legend: { display: false }, tooltip: { enabled: false }, title: { display: false } },
        scales: {
          x: { type: "linear", display: false, min: x[0], max: x[1] },
          y: { type: "linear", display: false, min: y[0], max: y[1] },
        },
        elements: { point: { radius: 0 }, line: { tension: 0 } },
      },
    });
    return () => chart.destroy();
  }, [datasets, x, y]);
  return (
    <canvas
      ref={ref}
      width={box.w}
      height={box.h}
      style={{ position: "absolute", left: box.l, top: box.t, width: box.w, height: box.h }}
    />
  );
}

export default function App() {
  return (
    <div style={{ position: "fixed", left: 0, top: 0, width: 358, height: 490, background: "#ffffff", overflow: "hidden" }}>
      <TracePanel box={LA.box} x={LA.x} y={LA.y} datasets={aSets} />
      <TracePanel box={LB.box} x={LB.x} y={LB.y} datasets={bSets} />
      <TracePanel box={LC.box} x={LC.x} y={LC.y} datasets={cSets} />
      <TracePanel box={LD.box} x={LD.x} y={LD.y} datasets={dSets} />
      <TracePanel box={LE.box} x={LE.x} y={LE.y} datasets={eSets} />
      <TracePanel box={LF.box} x={LF.x} y={LF.y} datasets={fSets} />
      <svg width={358} height={490} style={{ position: "absolute", left: 0, top: 0, pointerEvents: "none" }}>
        {LABELS.map((l, i) => (
          <text
            key={i}
            x={l.x}
            y={l.y}
            fontSize={l.size}
            fontWeight={700}
            fontFamily={FONT}
            fill="#111"
            textAnchor={l.anchor ?? "start"}
            transform={l.rotate ? `rotate(-90 ${l.x} ${l.y})` : undefined}
          >
            {l.text}
          </text>
        ))}
      </svg>
      <div
        style={{
          position: "absolute",
          left: 337.3,
          top: 9.3,
          width: 16.7,
          height: 7.4,
          background: "#8fbca8",
          border: "0.5px solid #6f9e8a",
          boxSizing: "border-box",
          fontFamily: FONT,
          fontSize: 4.6,
          fontWeight: 700,
          color: "#2f3f38",
          display: "flex",
          alignItems: "center",
          justifyContent: "center",
          lineHeight: 1,
        }}
      >
        AIY
      </div>
    </div>
  );
}
